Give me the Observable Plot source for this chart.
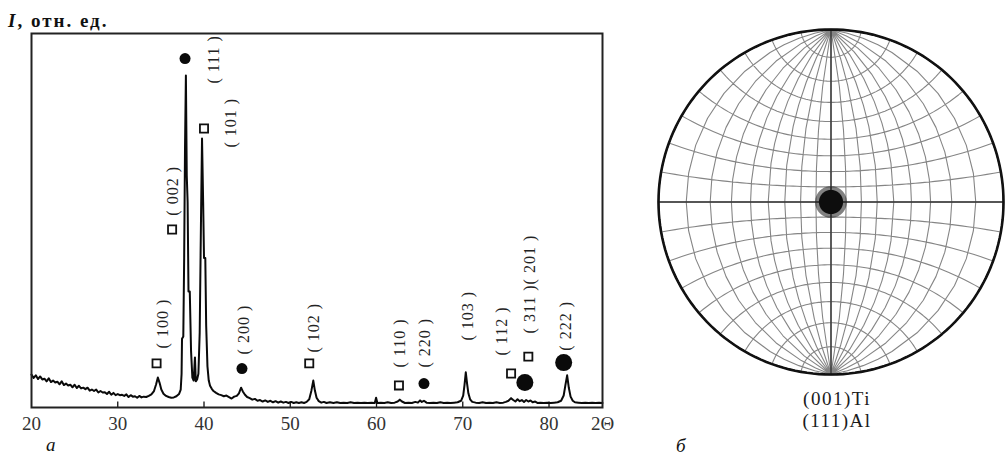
<!DOCTYPE html>
<html><head><meta charset="utf-8">
<script src="https://cdn.jsdelivr.net/npm/d3@7"></script>
<script src="https://cdn.jsdelivr.net/npm/@observablehq/plot@0.6"></script>
<style>
body{margin:0;background:#fff}
#wrap{position:relative;width:1005px;height:455px;overflow:hidden;font-family:"Liberation Serif","Noto Sans CJK SC",serif;color:#111;background:#fff}
.t{position:absolute;line-height:1;white-space:nowrap}
</style></head><body>
<div id="wrap">
 <div id="xrd" style="position:absolute;left:0;top:0"></div>
 <div id="pole" style="position:absolute;left:656px;top:27px"></div>
</div>
<script>
// ---------- data ----------
const yAxisLabel = ["I", ", отн. ед."];
const panelLetters = ["а", "б"];
const xTicks = [20, 30, 40, 50, 60, 70, 80];
const xEndLabel = "2Θ";
const xDomain = [20, 86.2];

const twoTheta = [
 20.0,20.25,20.5,20.75,21.0,21.25,21.5,21.75,22.0,22.25,22.5,22.75,23.0,23.25,23.5,23.75,24.0,24.25,24.5,24.75,
 25.0,25.25,25.5,25.75,26.0,26.25,26.5,26.75,27.0,27.25,27.5,27.75,28.0,28.25,28.5,28.75,29.0,29.25,29.5,29.75,
 30.0,30.25,30.5,30.75,31.0,31.25,31.5,31.75,32.0,32.25,32.5,32.75,33.0,33.3,33.6,33.9,34.2,34.45,34.65,34.85,
 35.05,35.3,35.6,35.9,36.2,36.5,36.8,37.1,37.3,37.4,37.45,37.6,37.7,37.8,37.9,38.0,38.1,38.2,38.35,38.5,
 38.65,38.8,38.95,39.05,39.2,39.35,39.5,39.65,39.77,39.9,40.0,40.15,40.25,40.4,40.55,40.7,40.9,41.1,41.4,41.7,
 42.0,42.3,42.6,42.9,43.2,43.5,43.8,44.05,44.3,44.5,44.75,45.0,45.3,45.6,45.9,46.2,46.5,46.8,47.1,47.4,
 47.7,48.0,48.3,48.6,48.9,49.2,49.5,49.8,50.1,50.4,50.7,51.0,51.3,51.6,51.9,52.2,52.45,52.67,52.85,53.05,
 53.3,53.6,53.9,54.2,54.6,55.0,55.4,55.8,56.2,56.6,57.0,57.4,57.8,58.2,58.6,59.0,59.4,59.8,59.95,60.1,
 60.5,60.9,61.3,61.7,62.1,62.45,62.7,62.95,63.3,63.7,64.1,64.5,64.8,65.05,65.25,65.5,65.8,66.2,66.6,67.0,
 67.4,67.8,68.2,68.6,69.0,69.4,69.8,70.05,70.2,70.35,70.5,70.65,70.85,71.1,71.5,71.9,72.3,72.7,73.1,73.5,
 73.9,74.3,74.7,75.0,75.3,75.6,75.85,76.1,76.35,76.6,76.85,77.1,77.35,77.6,77.85,78.1,78.4,78.7,79.0,79.4,
 79.8,80.2,80.6,81.0,81.4,81.7,81.9,82.1,82.3,82.5,82.75,83.0,83.4,83.8,84.2,84.6,85.0,85.4,85.8,86.2
];
const intensity = [
 8.8,7.9,8.6,7.6,8.3,7.5,7.7,7.0,7.8,6.8,7.2,6.7,6.9,6.2,7.0,6.0,6.4,5.9,6.1,5.4,
 6.1,5.2,5.8,5.1,5.3,4.9,5.3,4.5,4.8,4.4,4.8,4.0,4.4,4.0,4.1,3.6,4.2,3.4,3.9,3.3,
 3.6,3.3,3.4,3.1,3.5,2.8,3.3,2.9,3.0,2.6,3.1,2.7,2.9,2.8,3.1,3.5,4.4,6.2,8.0,6.6,
 4.8,3.7,3.1,2.8,2.6,2.7,3.0,3.6,4.8,9.0,18.4,19.0,40,70,88.8,62,55,31,31,15,
 8,7.2,13.4,7.0,7.5,9,20,50,71.9,55,40,40,22,11,7.2,5.8,5.0,4.4,3.9,3.5,
 3.3,3.0,3.2,2.8,2.4,2.9,3.1,3.8,5.3,4.3,3.4,2.8,2.5,2.1,2.3,1.8,2.0,1.6,1.9,1.5,
 1.8,1.4,1.7,1.3,1.6,1.3,1.5,1.2,1.5,1.2,1.4,1.2,1.4,1.2,1.5,2.2,4.5,7.2,4.6,2.6,
 1.7,1.3,1.5,1.2,1.4,1.2,1.4,1.2,1.3,1.2,1.4,1.2,1.3,1.2,1.3,1.2,1.3,1.2,2.6,1.2,
 1.3,1.2,1.4,1.2,1.3,1.6,2.1,1.6,1.2,1.3,1.2,1.5,1.3,1.9,1.5,1.8,1.3,1.2,1.3,1.2,
 1.4,1.2,1.3,1.2,1.3,1.4,1.8,3.2,6.0,9.4,6.4,3.8,2.2,1.5,1.3,1.2,1.4,1.2,1.3,1.2,
 1.4,1.2,1.3,1.5,1.8,2.5,2.0,1.6,2.2,1.7,2.0,1.5,2.0,1.6,1.9,1.4,1.6,1.2,1.3,1.2,
 1.3,1.2,1.3,1.4,1.8,3.2,6.0,8.6,5.2,2.9,1.8,1.4,1.3,1.2,1.3,1.2,1.3,1.2,1.3,1.2
];

// phase markers: Ti = open square, Al = filled circle
const markerTheta = [34.5, 36.3, 37.8, 40.0, 44.4, 52.2, 62.6, 65.5, 75.6, 77.2, 77.6, 81.7];
const markerI     = [11.8, 47.6, 93.3, 74.6, 10.4, 11.8, 5.9, 6.4, 9.1, 6.7, 13.6, 12.0];
const markerPhase = ["Ti","Ti","Al","Ti","Al","Ti","Ti","Al","Ti","Al","Ti","Al"];
const markerOverlap = [false,false,false,false,false,false,false,false,false,true,false,true];

// Miller index labels
const hkl      = ["( 100 )","( 002 )","( 111 )","( 101 )","( 200 )","( 102 )","( 110 )","( 220 )","( 103 )","( 112 )","( 311 )( 201 )","( 222 )"];
const hklTheta = [35.2, 36.4, 41.16, 43.14, 44.65, 52.7, 62.7, 65.6, 70.6, 74.5, 77.8, 81.9];
const hklI     = [15.8, 51.3, 86.6, 69.5, 14.2, 14.7, 10.7, 10.7, 17.9, 13.9, 19.8, 15.2];

// pole figure
const netStepDeg = [10, 10];
const spotCoreDeg = 8;
const spotHaloDeg = 10.5;
const poleLabels = ["(001)Ti", "(111)Al"];

// ---------- build ----------
const FONT = "'Liberation Serif','Noto Sans CJK SC',serif";
const pattern = twoTheta.map((x, i) => ({x, y: intensity[i]}));
const markers = markerTheta.map((x, i) => ({x, y: markerI[i], phase: markerPhase[i], big: markerOverlap[i]}));
const labels = hkl.map((t, i) => ({text: t, x: hklTheta[i], y: hklI[i]}));

const xrd = Plot.plot({
  width: 640, height: 455,
  marginLeft: 31, marginRight: 38, marginTop: 33, marginBottom: 48,
  x: {domain: xDomain, label: null},
  y: {domain: [0, 100], axis: null},
  style: {fontFamily: FONT, background: "white", color: "#111", overflow: "visible"},
  marks: [
    Plot.ruleX(xTicks.slice(1), {y1: 0, y2: 1.5, stroke: "#111", strokeWidth: 1.3}),
    Plot.line(pattern, {x: "x", y: "y", stroke: "#0a0a0a", strokeWidth: 2}),
    Plot.dot(markers.filter(d => d.phase === "Ti"), {x: "x", y: "y", symbol: "square", r: 4.6, fill: "white", stroke: "#111", strokeWidth: 1.8}),
    Plot.dot(markers.filter(d => d.phase === "Al" && !d.big), {x: "x", y: "y", symbol: "circle", r: 5.5, fill: "#0a0a0a"}),
    Plot.dot(markers.filter(d => d.phase === "Al" && d.big), {x: "x", y: "y", symbol: "circle", r: 8.5, fill: "#0a0a0a"}),
    Plot.text(labels, {x: "x", y: "y", text: "text", rotate: -90, textAnchor: "start", lineAnchor: "middle", fontSize: 16, fill: "#222", fontFamily: FONT}),
    Plot.frame({stroke: "#222", strokeWidth: 2}),
    Plot.axisX(xTicks, {tickSize: 0, tickPadding: 9, fontSize: 19, fill: "#333", label: null}),
    Plot.text([xEndLabel], {frameAnchor: "bottom-right", textAnchor: "middle", lineAnchor: "top", dy: 9, fontSize: 19, fill: "#333"})
  ]
});
// slightly spaced-out index labels, as in the original print
const labelGroup = xrd.querySelector('g[aria-label="text"]');
if (labelGroup) labelGroup.setAttribute("letter-spacing", "1");
document.getElementById("xrd").append(xrd);

const hemi = [[-90, -90], [90.001, 90]];
const pole = Plot.plot({
  width: 350, height: 350, margin: 2,
  style: {background: "transparent", overflow: "visible"},
  projection: ({width, height}) => d3.geoStereographic().scale(width / 2).translate([width / 2, height / 2]),
  marks: [
    Plot.geo([d3.geoGraticule().extent(hemi).step(netStepDeg)()], {stroke: "#858585", strokeWidth: 1.1, fill: "none"}),
    Plot.geo([d3.geoGraticule().extent(hemi).step([90, 360])()], {stroke: "#333", strokeWidth: 1.4, fill: "none"}),
    Plot.geo([d3.geoCircle().radius(spotHaloDeg)()], {fill: "#1a1a1a", fillOpacity: 0.55}),
    Plot.geo([d3.geoCircle().radius(spotCoreDeg)()], {fill: "#0d0d0d"}),
    Plot.geo([d3.geoCircle().radius(90)()], {stroke: "#111", strokeWidth: 2.6, fill: "none"})
  ]
});
document.getElementById("pole").append(pole);

// text around the panels
const wrap = document.getElementById("wrap");
function addText(html, css) {
  const d = document.createElement("div");
  d.className = "t";
  d.innerHTML = html;
  Object.assign(d.style, css);
  wrap.append(d);
}
addText(`<i>${yAxisLabel[0]}</i>${yAxisLabel[1]}`, {left: "8px", top: "11px", fontSize: "19px", fontWeight: "600", letterSpacing: "2px"});
addText(panelLetters[0], {left: "46px", top: "437px", fontSize: "19px", fontStyle: "italic", lineHeight: "0.8"});
addText(panelLetters[1], {left: "676px", top: "438px", fontSize: "19px", fontStyle: "italic", lineHeight: "0.8"});
addText(poleLabels[0], {left: "737px", top: "389px", width: "200px", textAlign: "center", fontSize: "19px", letterSpacing: "1.5px", color: "#1a1a1a"});
addText(poleLabels[1], {left: "737px", top: "411px", width: "200px", textAlign: "center", fontSize: "19px", letterSpacing: "1.5px", color: "#1a1a1a"});
</script>
</body></html>
